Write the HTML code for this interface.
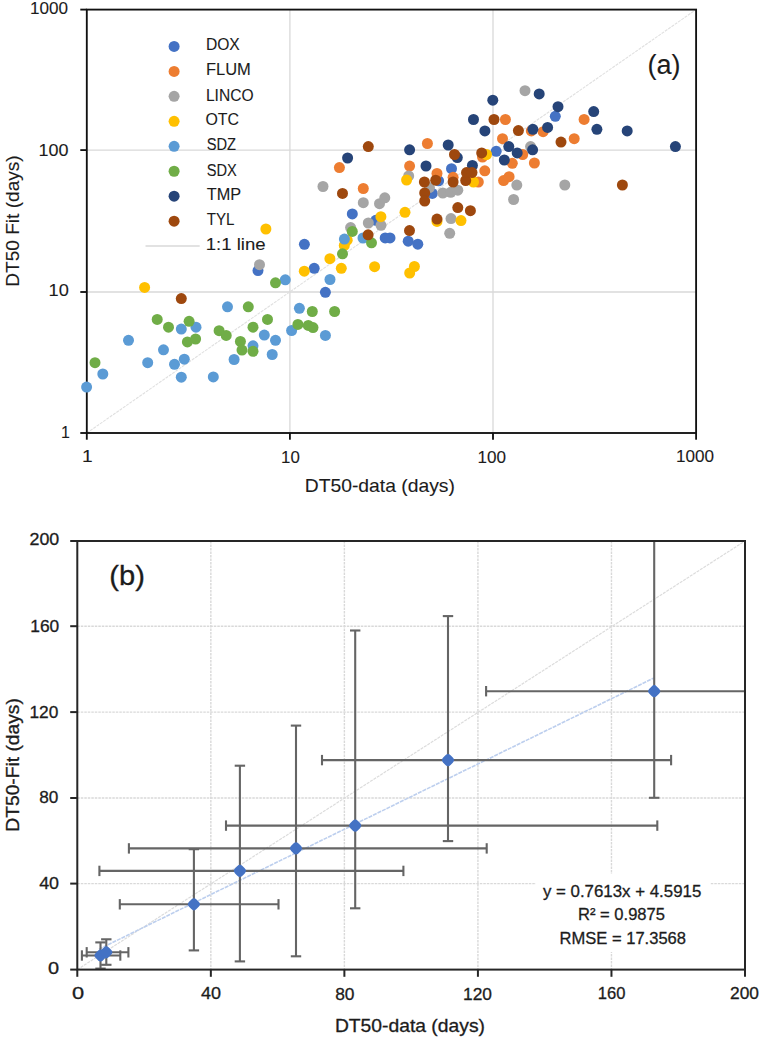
<!DOCTYPE html><html><head><meta charset="utf-8"><style>html,body{margin:0;padding:0;background:#fff;width:762px;height:1039px;overflow:hidden}svg{display:block}</style></head><body>
<svg width="762" height="1039" viewBox="0 0 762 1039" font-family='"Liberation Sans", sans-serif'>
<rect width="762" height="1039" fill="#fff"/>
<line x1="86.8" y1="150.10" x2="696.1" y2="150.10" stroke="#D9D9D9" stroke-width="1.3"/>
<line x1="289.90" y1="9.6" x2="289.90" y2="433.0" stroke="#D9D9D9" stroke-width="1.3"/>
<line x1="86.8" y1="292.00" x2="696.1" y2="292.00" stroke="#D9D9D9" stroke-width="1.3"/>
<line x1="493.00" y1="9.6" x2="493.00" y2="433.0" stroke="#D9D9D9" stroke-width="1.3"/>
<line x1="86.8" y1="433.0" x2="696.1" y2="9.6" stroke="#E0E0E0" stroke-width="1.1" stroke-dasharray="3 1"/>
<rect x="86.8" y="9.6" width="609.30" height="423.40" fill="none" stroke="#111" stroke-width="1.85"/>
<line x1="80.3" y1="9.60" x2="86.8" y2="9.60" stroke="#111" stroke-width="1.85"/>
<line x1="86.80" y1="433.0" x2="86.80" y2="439.7" stroke="#111" stroke-width="1.85"/>
<line x1="80.3" y1="150.10" x2="86.8" y2="150.10" stroke="#111" stroke-width="1.85"/>
<line x1="289.90" y1="433.0" x2="289.90" y2="439.7" stroke="#111" stroke-width="1.85"/>
<line x1="80.3" y1="292.00" x2="86.8" y2="292.00" stroke="#111" stroke-width="1.85"/>
<line x1="493.00" y1="433.0" x2="493.00" y2="439.7" stroke="#111" stroke-width="1.85"/>
<line x1="80.3" y1="433.00" x2="86.8" y2="433.00" stroke="#111" stroke-width="1.85"/>
<line x1="696.10" y1="433.0" x2="696.10" y2="439.7" stroke="#111" stroke-width="1.85"/>
<circle cx="325.4" cy="292.3" r="5.5" fill="#4472C4"/>
<circle cx="304.4" cy="244.3" r="5.5" fill="#4472C4"/>
<circle cx="258" cy="270.6" r="5.5" fill="#4472C4"/>
<circle cx="314.2" cy="268.3" r="5.5" fill="#4472C4"/>
<circle cx="352.3" cy="213.9" r="5.5" fill="#4472C4"/>
<circle cx="375.8" cy="220.3" r="5.5" fill="#4472C4"/>
<circle cx="385.2" cy="237.9" r="5.5" fill="#4472C4"/>
<circle cx="390" cy="237.9" r="5.5" fill="#4472C4"/>
<circle cx="408.2" cy="241.2" r="5.5" fill="#4472C4"/>
<circle cx="417.8" cy="244.2" r="5.5" fill="#4472C4"/>
<circle cx="451.5" cy="168.7" r="5.5" fill="#4472C4"/>
<circle cx="438.6" cy="180.8" r="5.5" fill="#4472C4"/>
<circle cx="432.3" cy="193.4" r="5.5" fill="#4472C4"/>
<circle cx="496.2" cy="151.3" r="5.5" fill="#4472C4"/>
<circle cx="555.3" cy="116.3" r="5.5" fill="#4472C4"/>
<circle cx="363.3" cy="188.5" r="5.5" fill="#ED7D31"/>
<circle cx="339.4" cy="167.6" r="5.5" fill="#ED7D31"/>
<circle cx="427.4" cy="143.5" r="5.5" fill="#ED7D31"/>
<circle cx="409.6" cy="166.1" r="5.5" fill="#ED7D31"/>
<circle cx="437" cy="173.4" r="5.5" fill="#ED7D31"/>
<circle cx="484.8" cy="170.8" r="5.5" fill="#ED7D31"/>
<circle cx="482.5" cy="157" r="5.5" fill="#ED7D31"/>
<circle cx="453.1" cy="177.3" r="5.5" fill="#ED7D31"/>
<circle cx="478.3" cy="182" r="5.5" fill="#ED7D31"/>
<circle cx="512.3" cy="163.3" r="5.5" fill="#ED7D31"/>
<circle cx="534.4" cy="163" r="5.5" fill="#ED7D31"/>
<circle cx="503.6" cy="180.6" r="5.5" fill="#ED7D31"/>
<circle cx="509.1" cy="176.7" r="5.5" fill="#ED7D31"/>
<circle cx="505.4" cy="119.5" r="5.5" fill="#ED7D31"/>
<circle cx="531.3" cy="130.9" r="5.5" fill="#ED7D31"/>
<circle cx="543.1" cy="131.7" r="5.5" fill="#ED7D31"/>
<circle cx="502.5" cy="138.7" r="5.5" fill="#ED7D31"/>
<circle cx="522.7" cy="154.5" r="5.5" fill="#ED7D31"/>
<circle cx="584.1" cy="119.4" r="5.5" fill="#ED7D31"/>
<circle cx="574.2" cy="138.7" r="5.5" fill="#ED7D31"/>
<circle cx="259.5" cy="264.7" r="5.5" fill="#A5A5A5"/>
<circle cx="323.0" cy="186.5" r="5.5" fill="#A5A5A5"/>
<circle cx="363.3" cy="202.7" r="5.5" fill="#A5A5A5"/>
<circle cx="379.5" cy="203.7" r="5.5" fill="#A5A5A5"/>
<circle cx="384.8" cy="197.8" r="5.5" fill="#A5A5A5"/>
<circle cx="368.3" cy="223" r="5.5" fill="#A5A5A5"/>
<circle cx="381" cy="225.3" r="5.5" fill="#A5A5A5"/>
<circle cx="350.6" cy="227.6" r="5.5" fill="#A5A5A5"/>
<circle cx="408.7" cy="175.9" r="5.5" fill="#A5A5A5"/>
<circle cx="429.4" cy="187.6" r="5.5" fill="#A5A5A5"/>
<circle cx="442.8" cy="193" r="5.5" fill="#A5A5A5"/>
<circle cx="450.7" cy="192.3" r="5.5" fill="#A5A5A5"/>
<circle cx="457.8" cy="190.2" r="5.5" fill="#A5A5A5"/>
<circle cx="451" cy="218.6" r="5.5" fill="#A5A5A5"/>
<circle cx="449.7" cy="233.3" r="5.5" fill="#A5A5A5"/>
<circle cx="516.8" cy="185.1" r="5.5" fill="#A5A5A5"/>
<circle cx="513.6" cy="199.5" r="5.5" fill="#A5A5A5"/>
<circle cx="525" cy="90.7" r="5.5" fill="#A5A5A5"/>
<circle cx="530.6" cy="146.6" r="5.5" fill="#A5A5A5"/>
<circle cx="564.8" cy="185" r="5.5" fill="#A5A5A5"/>
<circle cx="144.6" cy="287.4" r="5.5" fill="#FFC000"/>
<circle cx="265.9" cy="229" r="5.5" fill="#FFC000"/>
<circle cx="304.3" cy="271.2" r="5.5" fill="#FFC000"/>
<circle cx="329.9" cy="258.7" r="5.5" fill="#FFC000"/>
<circle cx="380.9" cy="216.7" r="5.5" fill="#FFC000"/>
<circle cx="405" cy="212.3" r="5.5" fill="#FFC000"/>
<circle cx="347.2" cy="240.2" r="5.5" fill="#FFC000"/>
<circle cx="344.3" cy="245.4" r="5.5" fill="#FFC000"/>
<circle cx="341.3" cy="268.3" r="5.5" fill="#FFC000"/>
<circle cx="374.6" cy="266.7" r="5.5" fill="#FFC000"/>
<circle cx="409.7" cy="273" r="5.5" fill="#FFC000"/>
<circle cx="414.4" cy="266.5" r="5.5" fill="#FFC000"/>
<circle cx="406.6" cy="180" r="5.5" fill="#FFC000"/>
<circle cx="473.5" cy="182" r="5.5" fill="#FFC000"/>
<circle cx="437" cy="221.4" r="5.5" fill="#FFC000"/>
<circle cx="461" cy="220.6" r="5.5" fill="#FFC000"/>
<circle cx="486.5" cy="154.5" r="5.5" fill="#FFC000"/>
<circle cx="86.6" cy="387.1" r="5.5" fill="#5B9BD5"/>
<circle cx="102.8" cy="374" r="5.5" fill="#5B9BD5"/>
<circle cx="128.5" cy="340.3" r="5.5" fill="#5B9BD5"/>
<circle cx="147.7" cy="362.7" r="5.5" fill="#5B9BD5"/>
<circle cx="163.5" cy="349.8" r="5.5" fill="#5B9BD5"/>
<circle cx="174.5" cy="364.3" r="5.5" fill="#5B9BD5"/>
<circle cx="181.3" cy="329.1" r="5.5" fill="#5B9BD5"/>
<circle cx="184.3" cy="359.2" r="5.5" fill="#5B9BD5"/>
<circle cx="181.3" cy="377.2" r="5.5" fill="#5B9BD5"/>
<circle cx="196" cy="327.2" r="5.5" fill="#5B9BD5"/>
<circle cx="213.3" cy="376.9" r="5.5" fill="#5B9BD5"/>
<circle cx="227.5" cy="306.8" r="5.5" fill="#5B9BD5"/>
<circle cx="234.1" cy="359.5" r="5.5" fill="#5B9BD5"/>
<circle cx="253" cy="345.8" r="5.5" fill="#5B9BD5"/>
<circle cx="264.3" cy="335.1" r="5.5" fill="#5B9BD5"/>
<circle cx="272.2" cy="354.5" r="5.5" fill="#5B9BD5"/>
<circle cx="275.5" cy="340.3" r="5.5" fill="#5B9BD5"/>
<circle cx="285.3" cy="279.8" r="5.5" fill="#5B9BD5"/>
<circle cx="291.6" cy="330.5" r="5.5" fill="#5B9BD5"/>
<circle cx="299.4" cy="308.3" r="5.5" fill="#5B9BD5"/>
<circle cx="325.4" cy="335.4" r="5.5" fill="#5B9BD5"/>
<circle cx="330" cy="279.5" r="5.5" fill="#5B9BD5"/>
<circle cx="344.4" cy="239.1" r="5.5" fill="#5B9BD5"/>
<circle cx="363" cy="238" r="5.5" fill="#5B9BD5"/>
<circle cx="95" cy="362.7" r="5.5" fill="#70AD47"/>
<circle cx="157.2" cy="319.4" r="5.5" fill="#70AD47"/>
<circle cx="168.5" cy="327.2" r="5.5" fill="#70AD47"/>
<circle cx="189.1" cy="321.3" r="5.5" fill="#70AD47"/>
<circle cx="187.4" cy="341.9" r="5.5" fill="#70AD47"/>
<circle cx="195.6" cy="339" r="5.5" fill="#70AD47"/>
<circle cx="219.1" cy="330.7" r="5.5" fill="#70AD47"/>
<circle cx="226.2" cy="335.4" r="5.5" fill="#70AD47"/>
<circle cx="240.4" cy="341.4" r="5.5" fill="#70AD47"/>
<circle cx="242" cy="350.1" r="5.5" fill="#70AD47"/>
<circle cx="253" cy="351.3" r="5.5" fill="#70AD47"/>
<circle cx="248.3" cy="306.8" r="5.5" fill="#70AD47"/>
<circle cx="253" cy="327.2" r="5.5" fill="#70AD47"/>
<circle cx="267.5" cy="319.4" r="5.5" fill="#70AD47"/>
<circle cx="275.5" cy="282.8" r="5.5" fill="#70AD47"/>
<circle cx="297.9" cy="324.4" r="5.5" fill="#70AD47"/>
<circle cx="308.3" cy="325.4" r="5.5" fill="#70AD47"/>
<circle cx="313" cy="327.6" r="5.5" fill="#70AD47"/>
<circle cx="312.3" cy="311.5" r="5.5" fill="#70AD47"/>
<circle cx="334.6" cy="311.5" r="5.5" fill="#70AD47"/>
<circle cx="342.5" cy="253.8" r="5.5" fill="#70AD47"/>
<circle cx="352.3" cy="231.4" r="5.5" fill="#70AD47"/>
<circle cx="371.5" cy="242.8" r="5.5" fill="#70AD47"/>
<circle cx="347.6" cy="158" r="5.5" fill="#264478"/>
<circle cx="409.6" cy="149.8" r="5.5" fill="#264478"/>
<circle cx="426" cy="166" r="5.5" fill="#264478"/>
<circle cx="472.4" cy="165.5" r="5.5" fill="#264478"/>
<circle cx="448.2" cy="145" r="5.5" fill="#264478"/>
<circle cx="457.3" cy="157.6" r="5.5" fill="#264478"/>
<circle cx="473.5" cy="119.5" r="5.5" fill="#264478"/>
<circle cx="484.9" cy="130.9" r="5.5" fill="#264478"/>
<circle cx="492.8" cy="100.2" r="5.5" fill="#264478"/>
<circle cx="504.3" cy="160" r="5.5" fill="#264478"/>
<circle cx="508.8" cy="146.6" r="5.5" fill="#264478"/>
<circle cx="517.2" cy="152.9" r="5.5" fill="#264478"/>
<circle cx="532.6" cy="149.8" r="5.5" fill="#264478"/>
<circle cx="532.9" cy="129.3" r="5.5" fill="#264478"/>
<circle cx="547.6" cy="127.4" r="5.5" fill="#264478"/>
<circle cx="539.2" cy="93.9" r="5.5" fill="#264478"/>
<circle cx="558" cy="106.7" r="5.5" fill="#264478"/>
<circle cx="593.7" cy="111.6" r="5.5" fill="#264478"/>
<circle cx="596.9" cy="129.3" r="5.5" fill="#264478"/>
<circle cx="627.2" cy="130.9" r="5.5" fill="#264478"/>
<circle cx="675.4" cy="146.6" r="5.5" fill="#264478"/>
<circle cx="181.3" cy="298.6" r="5.5" fill="#9E480E"/>
<circle cx="342.5" cy="193.4" r="5.5" fill="#9E480E"/>
<circle cx="368.3" cy="146.6" r="5.5" fill="#9E480E"/>
<circle cx="368.1" cy="234.8" r="5.5" fill="#9E480E"/>
<circle cx="409.5" cy="230.6" r="5.5" fill="#9E480E"/>
<circle cx="424.4" cy="182" r="5.5" fill="#9E480E"/>
<circle cx="424.7" cy="193" r="5.5" fill="#9E480E"/>
<circle cx="424.7" cy="201" r="5.5" fill="#9E480E"/>
<circle cx="435.7" cy="180.2" r="5.5" fill="#9E480E"/>
<circle cx="453.1" cy="182" r="5.5" fill="#9E480E"/>
<circle cx="465.7" cy="180.5" r="5.5" fill="#9E480E"/>
<circle cx="466.5" cy="172.6" r="5.5" fill="#9E480E"/>
<circle cx="472" cy="172.6" r="5.5" fill="#9E480E"/>
<circle cx="437" cy="219.1" r="5.5" fill="#9E480E"/>
<circle cx="457.8" cy="207.6" r="5.5" fill="#9E480E"/>
<circle cx="470.4" cy="210.7" r="5.5" fill="#9E480E"/>
<circle cx="454.5" cy="154.5" r="5.5" fill="#9E480E"/>
<circle cx="481.7" cy="152.9" r="5.5" fill="#9E480E"/>
<circle cx="494" cy="119.5" r="5.5" fill="#9E480E"/>
<circle cx="518.4" cy="130.6" r="5.5" fill="#9E480E"/>
<circle cx="561" cy="142.1" r="5.5" fill="#9E480E"/>
<circle cx="622.4" cy="185" r="5.5" fill="#9E480E"/>
<circle cx="174.1" cy="46.44" r="5.5" fill="#4472C4"/>
<circle cx="174.1" cy="71.40" r="5.5" fill="#ED7D31"/>
<circle cx="174.1" cy="96.36" r="5.5" fill="#A5A5A5"/>
<circle cx="174.1" cy="121.32" r="5.5" fill="#FFC000"/>
<circle cx="174.1" cy="146.28" r="5.5" fill="#5B9BD5"/>
<circle cx="174.1" cy="171.24" r="5.5" fill="#70AD47"/>
<circle cx="174.1" cy="196.20" r="5.5" fill="#264478"/>
<circle cx="174.1" cy="221.16" r="5.5" fill="#9E480E"/>
<line x1="145.5" y1="246.12" x2="199.7" y2="246.12" stroke="#D9D9D9" stroke-width="1.5"/>
<line x1="210.84" y1="541.0" x2="210.84" y2="969.6" stroke="#D9D9D9" stroke-width="1.4" stroke-dasharray="2.5 1"/>
<line x1="77.3" y1="883.60" x2="745.0" y2="883.60" stroke="#D9D9D9" stroke-width="1.4" stroke-dasharray="2.5 1"/>
<line x1="344.38" y1="541.0" x2="344.38" y2="969.6" stroke="#D9D9D9" stroke-width="1.4" stroke-dasharray="2.5 1"/>
<line x1="77.3" y1="798.00" x2="745.0" y2="798.00" stroke="#D9D9D9" stroke-width="1.4" stroke-dasharray="2.5 1"/>
<line x1="477.92" y1="541.0" x2="477.92" y2="969.6" stroke="#D9D9D9" stroke-width="1.4" stroke-dasharray="2.5 1"/>
<line x1="77.3" y1="712.10" x2="745.0" y2="712.10" stroke="#D9D9D9" stroke-width="1.4" stroke-dasharray="2.5 1"/>
<line x1="611.46" y1="541.0" x2="611.46" y2="969.6" stroke="#D9D9D9" stroke-width="1.4" stroke-dasharray="2.5 1"/>
<line x1="77.3" y1="626.20" x2="745.0" y2="626.20" stroke="#D9D9D9" stroke-width="1.4" stroke-dasharray="2.5 1"/>
<line x1="77.3" y1="969.6" x2="745.0" y2="541.0" stroke="#DCDCDC" stroke-width="1.2" stroke-dasharray="3 1"/>
<line x1="99.00" y1="949.16" x2="653.86" y2="678.01" stroke="#BDCFEE" stroke-width="1.6" stroke-dasharray="4 1"/>
<rect x="536" y="874" width="174" height="78" fill="#fff"/>
<line x1="81.9" y1="955.5" x2="120.3" y2="955.5" stroke="#656565" stroke-width="2.1"/>
<line x1="100.5" y1="942.4" x2="100.5" y2="968.6" stroke="#656565" stroke-width="2.1"/>
<line x1="81.9" y1="950.3" x2="81.9" y2="960.7" stroke="#656565" stroke-width="2.1"/>
<line x1="120.3" y1="950.3" x2="120.3" y2="960.7" stroke="#656565" stroke-width="2.1"/>
<line x1="95.3" y1="942.4" x2="105.7" y2="942.4" stroke="#656565" stroke-width="2.1"/>
<line x1="95.3" y1="968.6" x2="105.7" y2="968.6" stroke="#656565" stroke-width="2.1"/>
<line x1="86.7" y1="952.3" x2="128.4" y2="952.3" stroke="#656565" stroke-width="2.1"/>
<line x1="106.3" y1="939.3" x2="106.3" y2="964.8" stroke="#656565" stroke-width="2.1"/>
<line x1="86.7" y1="947.0999999999999" x2="86.7" y2="957.5" stroke="#656565" stroke-width="2.1"/>
<line x1="128.4" y1="947.0999999999999" x2="128.4" y2="957.5" stroke="#656565" stroke-width="2.1"/>
<line x1="101.1" y1="939.3" x2="111.5" y2="939.3" stroke="#656565" stroke-width="2.1"/>
<line x1="101.1" y1="964.8" x2="111.5" y2="964.8" stroke="#656565" stroke-width="2.1"/>
<line x1="119.8" y1="904.3" x2="278.5" y2="904.3" stroke="#656565" stroke-width="2.1"/>
<line x1="193.9" y1="849.2" x2="193.9" y2="950.4" stroke="#656565" stroke-width="2.1"/>
<line x1="119.8" y1="899.0999999999999" x2="119.8" y2="909.5" stroke="#656565" stroke-width="2.1"/>
<line x1="278.5" y1="899.0999999999999" x2="278.5" y2="909.5" stroke="#656565" stroke-width="2.1"/>
<line x1="188.70000000000002" y1="849.2" x2="199.1" y2="849.2" stroke="#656565" stroke-width="2.1"/>
<line x1="188.70000000000002" y1="950.4" x2="199.1" y2="950.4" stroke="#656565" stroke-width="2.1"/>
<line x1="99.4" y1="870.9" x2="403.4" y2="870.9" stroke="#656565" stroke-width="2.1"/>
<line x1="239.9" y1="765.7" x2="239.9" y2="961.4" stroke="#656565" stroke-width="2.1"/>
<line x1="99.4" y1="865.6999999999999" x2="99.4" y2="876.1" stroke="#656565" stroke-width="2.1"/>
<line x1="403.4" y1="865.6999999999999" x2="403.4" y2="876.1" stroke="#656565" stroke-width="2.1"/>
<line x1="234.70000000000002" y1="765.7" x2="245.1" y2="765.7" stroke="#656565" stroke-width="2.1"/>
<line x1="234.70000000000002" y1="961.4" x2="245.1" y2="961.4" stroke="#656565" stroke-width="2.1"/>
<line x1="128.9" y1="848.4" x2="486.7" y2="848.4" stroke="#656565" stroke-width="2.1"/>
<line x1="296.0" y1="725.6" x2="296.0" y2="956.3" stroke="#656565" stroke-width="2.1"/>
<line x1="128.9" y1="843.1999999999999" x2="128.9" y2="853.6" stroke="#656565" stroke-width="2.1"/>
<line x1="486.7" y1="843.1999999999999" x2="486.7" y2="853.6" stroke="#656565" stroke-width="2.1"/>
<line x1="290.8" y1="725.6" x2="301.2" y2="725.6" stroke="#656565" stroke-width="2.1"/>
<line x1="290.8" y1="956.3" x2="301.2" y2="956.3" stroke="#656565" stroke-width="2.1"/>
<line x1="226.0" y1="825.6" x2="657.3" y2="825.6" stroke="#656565" stroke-width="2.1"/>
<line x1="355.2" y1="630.5" x2="355.2" y2="908.3" stroke="#656565" stroke-width="2.1"/>
<line x1="226.0" y1="820.4" x2="226.0" y2="830.8000000000001" stroke="#656565" stroke-width="2.1"/>
<line x1="657.3" y1="820.4" x2="657.3" y2="830.8000000000001" stroke="#656565" stroke-width="2.1"/>
<line x1="350.0" y1="630.5" x2="360.4" y2="630.5" stroke="#656565" stroke-width="2.1"/>
<line x1="350.0" y1="908.3" x2="360.4" y2="908.3" stroke="#656565" stroke-width="2.1"/>
<line x1="322.0" y1="760.1" x2="671.1" y2="760.1" stroke="#656565" stroke-width="2.1"/>
<line x1="448.0" y1="616.1" x2="448.0" y2="841.1" stroke="#656565" stroke-width="2.1"/>
<line x1="322.0" y1="754.9" x2="322.0" y2="765.3000000000001" stroke="#656565" stroke-width="2.1"/>
<line x1="671.1" y1="754.9" x2="671.1" y2="765.3000000000001" stroke="#656565" stroke-width="2.1"/>
<line x1="442.8" y1="616.1" x2="453.2" y2="616.1" stroke="#656565" stroke-width="2.1"/>
<line x1="442.8" y1="841.1" x2="453.2" y2="841.1" stroke="#656565" stroke-width="2.1"/>
<line x1="486.1" y1="691.2" x2="745.0" y2="691.2" stroke="#656565" stroke-width="2.1"/>
<line x1="654.2" y1="541.2" x2="654.2" y2="797.8" stroke="#656565" stroke-width="2.1"/>
<line x1="486.1" y1="686.0" x2="486.1" y2="696.4000000000001" stroke="#656565" stroke-width="2.1"/>
<line x1="649.0" y1="797.8" x2="659.4000000000001" y2="797.8" stroke="#656565" stroke-width="2.1"/>
<rect x="95.3" y="950.3" width="10.4" height="10.4" rx="3.6" fill="#4472C4" transform="rotate(45 100.5 955.5)"/>
<rect x="101.1" y="947.0999999999999" width="10.4" height="10.4" rx="3.6" fill="#4472C4" transform="rotate(45 106.3 952.3)"/>
<rect x="188.70000000000002" y="899.0999999999999" width="10.4" height="10.4" rx="3.6" fill="#4472C4" transform="rotate(45 193.9 904.3)"/>
<rect x="234.70000000000002" y="865.6999999999999" width="10.4" height="10.4" rx="3.6" fill="#4472C4" transform="rotate(45 239.9 870.9)"/>
<rect x="290.8" y="843.1999999999999" width="10.4" height="10.4" rx="3.6" fill="#4472C4" transform="rotate(45 296.0 848.4)"/>
<rect x="350.0" y="820.4" width="10.4" height="10.4" rx="3.6" fill="#4472C4" transform="rotate(45 355.2 825.6)"/>
<rect x="442.8" y="754.9" width="10.4" height="10.4" rx="3.6" fill="#4472C4" transform="rotate(45 448.0 760.1)"/>
<rect x="649.0" y="686.0" width="10.4" height="10.4" rx="3.6" fill="#4472C4" transform="rotate(45 654.2 691.2)"/>
<rect x="77.3" y="541.0" width="667.70" height="428.60" fill="none" stroke="#262626" stroke-width="2.0"/>
<line x1="70.2" y1="969.60" x2="77.3" y2="969.60" stroke="#262626" stroke-width="2.0"/>
<line x1="77.30" y1="969.6" x2="77.30" y2="976.8" stroke="#262626" stroke-width="2.0"/>
<line x1="70.2" y1="883.60" x2="77.3" y2="883.60" stroke="#262626" stroke-width="2.0"/>
<line x1="210.84" y1="969.6" x2="210.84" y2="976.8" stroke="#262626" stroke-width="2.0"/>
<line x1="70.2" y1="798.00" x2="77.3" y2="798.00" stroke="#262626" stroke-width="2.0"/>
<line x1="344.38" y1="969.6" x2="344.38" y2="976.8" stroke="#262626" stroke-width="2.0"/>
<line x1="70.2" y1="712.10" x2="77.3" y2="712.10" stroke="#262626" stroke-width="2.0"/>
<line x1="477.92" y1="969.6" x2="477.92" y2="976.8" stroke="#262626" stroke-width="2.0"/>
<line x1="70.2" y1="626.20" x2="77.3" y2="626.20" stroke="#262626" stroke-width="2.0"/>
<line x1="611.46" y1="969.6" x2="611.46" y2="976.8" stroke="#262626" stroke-width="2.0"/>
<line x1="70.2" y1="541.00" x2="77.3" y2="541.00" stroke="#262626" stroke-width="2.0"/>
<line x1="745.00" y1="969.6" x2="745.00" y2="976.8" stroke="#262626" stroke-width="2.0"/>
<text x="30.00" y="14.10" font-size="17.30" textLength="38.03" lengthAdjust="spacingAndGlyphs" fill="#1c1c1c" stroke="#1c1c1c" stroke-width="0.1">1000</text>
<text x="38.60" y="155.50" font-size="17.30" textLength="30.00" lengthAdjust="spacingAndGlyphs" fill="#1c1c1c" stroke="#1c1c1c" stroke-width="0.1">100</text>
<text x="48.60" y="296.00" font-size="17.30" textLength="20.26" lengthAdjust="spacingAndGlyphs" fill="#1c1c1c" stroke="#1c1c1c" stroke-width="0.1">10</text>
<text x="61.00" y="437.70" font-size="17.30" textLength="8.91" lengthAdjust="spacingAndGlyphs" fill="#1c1c1c" stroke="#1c1c1c" stroke-width="0.1">1</text>
<text x="82.10" y="462.10" font-size="17.30" textLength="10.68" lengthAdjust="spacingAndGlyphs" fill="#1c1c1c" stroke="#1c1c1c" stroke-width="0.1">1</text>
<text x="281.00" y="462.90" font-size="17.30" textLength="18.77" lengthAdjust="spacingAndGlyphs" fill="#1c1c1c" stroke="#1c1c1c" stroke-width="0.1">10</text>
<text x="477.50" y="462.90" font-size="17.30" textLength="28.53" lengthAdjust="spacingAndGlyphs" fill="#1c1c1c" stroke="#1c1c1c" stroke-width="0.1">100</text>
<text x="676.00" y="462.10" font-size="17.30" textLength="38.03" lengthAdjust="spacingAndGlyphs" fill="#1c1c1c" stroke="#1c1c1c" stroke-width="0.1">1000</text>
<text x="304.70" y="491.80" font-size="18.60" textLength="150.24" lengthAdjust="spacingAndGlyphs" fill="#1c1c1c" stroke="#1c1c1c" stroke-width="0.1">DT50-data (days)</text>
<text transform="translate(18.60,286.70) rotate(-90)" font-size="18.60" textLength="131.37" lengthAdjust="spacingAndGlyphs" fill="#1c1c1c" stroke="#1c1c1c" stroke-width="0.1">DT50 Fit (days)</text>
<text x="647.40" y="74.20" font-size="27.00" textLength="33.05" lengthAdjust="spacingAndGlyphs" fill="#1c1c1c" stroke="#1c1c1c" stroke-width="0.1">(a)</text>
<text x="205.90" y="49.60" font-size="17.40" textLength="33.91" lengthAdjust="spacingAndGlyphs" fill="#1c1c1c" stroke="#1c1c1c" stroke-width="0.1">DOX</text>
<text x="205.90" y="75.10" font-size="17.40" textLength="44.95" lengthAdjust="spacingAndGlyphs" fill="#1c1c1c" stroke="#1c1c1c" stroke-width="0.1">FLUM</text>
<text x="205.90" y="101.10" font-size="17.40" textLength="47.66" lengthAdjust="spacingAndGlyphs" fill="#1c1c1c" stroke="#1c1c1c" stroke-width="0.1">LINCO</text>
<text x="205.50" y="124.90" font-size="17.40" textLength="33.59" lengthAdjust="spacingAndGlyphs" fill="#1c1c1c" stroke="#1c1c1c" stroke-width="0.1">OTC</text>
<text x="206.70" y="150.00" font-size="17.40" textLength="29.32" lengthAdjust="spacingAndGlyphs" fill="#1c1c1c" stroke="#1c1c1c" stroke-width="0.1">SDZ</text>
<text x="206.70" y="176.40" font-size="17.40" textLength="30.07" lengthAdjust="spacingAndGlyphs" fill="#1c1c1c" stroke="#1c1c1c" stroke-width="0.1">SDX</text>
<text x="206.70" y="200.20" font-size="17.40" textLength="34.44" lengthAdjust="spacingAndGlyphs" fill="#1c1c1c" stroke="#1c1c1c" stroke-width="0.1">TMP</text>
<text x="206.70" y="225.30" font-size="17.40" textLength="27.75" lengthAdjust="spacingAndGlyphs" fill="#1c1c1c" stroke="#1c1c1c" stroke-width="0.1">TYL</text>
<text x="205.70" y="249.80" font-size="17.40" textLength="59.89" lengthAdjust="spacingAndGlyphs" fill="#1c1c1c" stroke="#1c1c1c" stroke-width="0.1">1:1 line</text>
<text x="29.50" y="544.50" font-size="16.80" textLength="29.77" lengthAdjust="spacingAndGlyphs" fill="#1c1c1c" stroke="#1c1c1c" stroke-width="0.3">200</text>
<text x="30.30" y="631.70" font-size="16.80" textLength="28.97" lengthAdjust="spacingAndGlyphs" fill="#1c1c1c" stroke="#1c1c1c" stroke-width="0.3">160</text>
<text x="29.40" y="717.50" font-size="16.80" textLength="28.90" lengthAdjust="spacingAndGlyphs" fill="#1c1c1c" stroke="#1c1c1c" stroke-width="0.3">120</text>
<text x="39.20" y="803.10" font-size="16.80" textLength="19.15" lengthAdjust="spacingAndGlyphs" fill="#1c1c1c" stroke="#1c1c1c" stroke-width="0.3">80</text>
<text x="39.20" y="888.90" font-size="16.80" textLength="19.88" lengthAdjust="spacingAndGlyphs" fill="#1c1c1c" stroke="#1c1c1c" stroke-width="0.3">40</text>
<text x="48.00" y="973.70" font-size="16.80" textLength="11.11" lengthAdjust="spacingAndGlyphs" fill="#1c1c1c" stroke="#1c1c1c" stroke-width="0.3">0</text>
<text x="72.00" y="999.40" font-size="16.80" textLength="12.16" lengthAdjust="spacingAndGlyphs" fill="#1c1c1c" stroke="#1c1c1c" stroke-width="0.3">0</text>
<text x="200.90" y="999.40" font-size="16.80" textLength="20.03" lengthAdjust="spacingAndGlyphs" fill="#1c1c1c" stroke="#1c1c1c" stroke-width="0.3">40</text>
<text x="335.20" y="999.60" font-size="16.80" textLength="19.35" lengthAdjust="spacingAndGlyphs" fill="#1c1c1c" stroke="#1c1c1c" stroke-width="0.3">80</text>
<text x="463.00" y="999.60" font-size="16.80" textLength="28.93" lengthAdjust="spacingAndGlyphs" fill="#1c1c1c" stroke="#1c1c1c" stroke-width="0.3">120</text>
<text x="597.80" y="999.00" font-size="16.80" textLength="27.64" lengthAdjust="spacingAndGlyphs" fill="#1c1c1c" stroke="#1c1c1c" stroke-width="0.3">160</text>
<text x="730.00" y="999.00" font-size="16.80" textLength="28.93" lengthAdjust="spacingAndGlyphs" fill="#1c1c1c" stroke="#1c1c1c" stroke-width="0.3">200</text>
<text x="334.90" y="1031.80" font-size="18.20" textLength="150.06" lengthAdjust="spacingAndGlyphs" fill="#1c1c1c" stroke="#1c1c1c" stroke-width="0.3">DT50-data (days)</text>
<text transform="translate(18.50,831.70) rotate(-90)" font-size="18.20" textLength="133.58" lengthAdjust="spacingAndGlyphs" fill="#1c1c1c" stroke="#1c1c1c" stroke-width="0.3">DT50-Fit (days)</text>
<text x="109.30" y="585.40" font-size="27.50" textLength="35.58" lengthAdjust="spacingAndGlyphs" fill="#1c1c1c" stroke="#1c1c1c" stroke-width="0.3">(b)</text>
<text x="542.90" y="896.80" font-size="17.40" textLength="158.41" lengthAdjust="spacingAndGlyphs" fill="#1c1c1c" stroke="#1c1c1c" stroke-width="0.3">y = 0.7613x + 4.5915</text>
<text x="578.00" y="920.40" font-size="17.40" textLength="87.01" lengthAdjust="spacingAndGlyphs" fill="#1c1c1c" stroke="#1c1c1c" stroke-width="0.3">R² = 0.9875</text>
<text x="559.50" y="944.30" font-size="17.40" textLength="126.54" lengthAdjust="spacingAndGlyphs" fill="#1c1c1c" stroke="#1c1c1c" stroke-width="0.3">RMSE = 17.3568</text>
</svg></body></html>
